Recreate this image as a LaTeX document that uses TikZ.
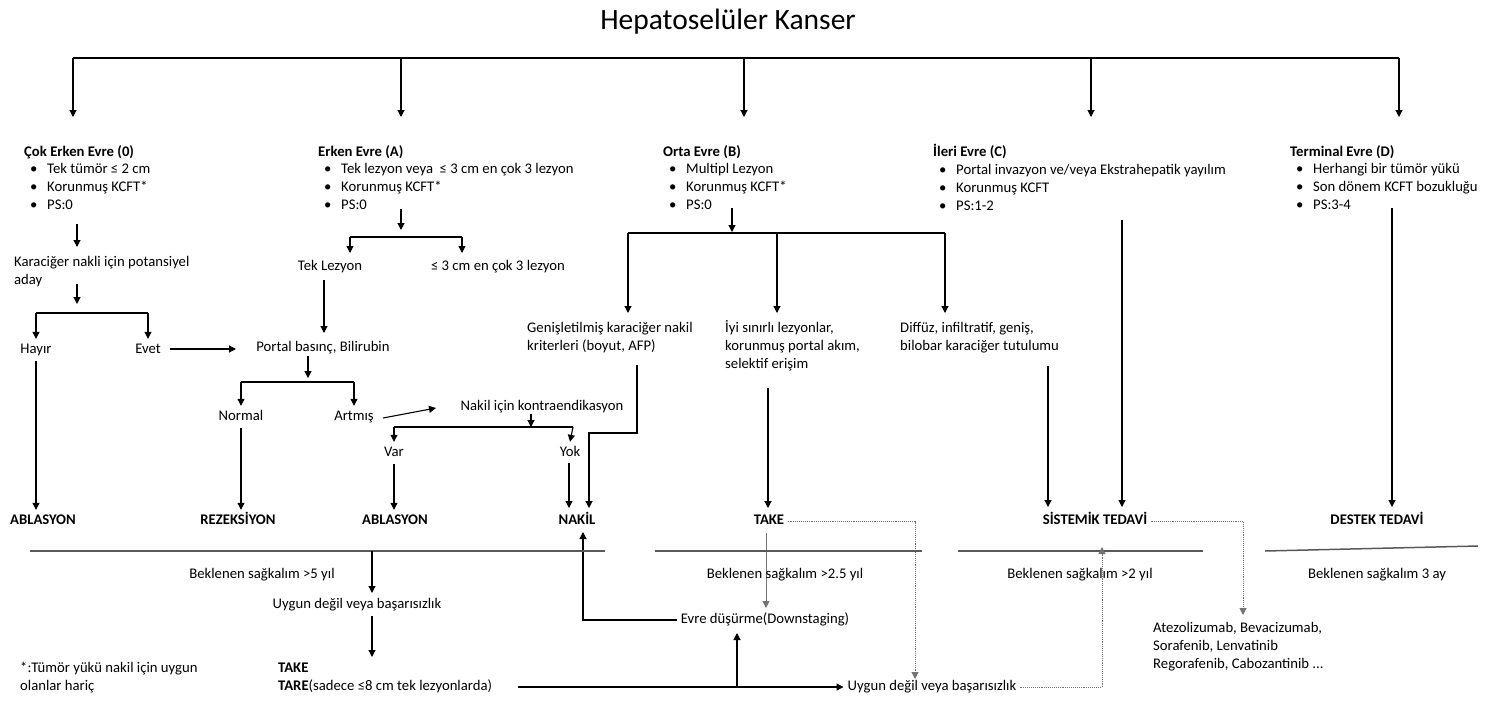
\documentclass[tikz,border=0pt]{standalone}
\usepackage{fontspec}
\setmainfont{Carlito}
\usetikzlibrary{arrows.meta, positioning}

\newcommand{\itm}[1]{\\\hspace*{6pt}\makebox[17pt][l]{\textbullet}#1}

\begin{document}
\begin{tikzpicture}[x=1pt, y=-1pt, font=\fontsize{14.7}{17.8}\selectfont,
  txt/.style={inner sep=4pt, text height=10.5pt, text depth=3.5pt},
  multi/.style={anchor=west, align=left, inner sep=0pt,
    execute at begin node=\strut, execute at end node=\strut},
  res/.style={font=\fontsize{14.7}{17.8}\selectfont\bfseries, inner sep=4pt,
    text height=10.5pt, text depth=3.5pt},
  arr/.style={-{Triangle[width=7pt,length=7pt]}, line width=1.1pt},
  ln/.style={line width=1.1pt},
  sepline/.style={line width=1.5pt, draw=black!65},
  dotline/.style={densely dotted, draw=black!55, line width=1pt},
  greyline/.style={draw=black!55, line width=0.9pt}]
  \useasboundingbox (0,0) rectangle (1499,702);

  % Title and stages
  \node (title) at (728,22) {\fontsize{29.5}{34}\selectfont Hepatoselüler Kanser};
  \draw[ln] (73,58) -- (1399,58);
  \foreach \x in {73,401,744,1091,1399}
    \draw[arr] (\x,58) -- (\x,117);

  \node[multi] (s0) at (24,180) {\textbf{Çok Erken Evre (0)}\itm{Tek tümör ≤ 2 cm}\itm{Korunmuş KCFT*}\itm{PS:0}};
  \node[multi] (sA) at (318,180) {\textbf{Erken Evre (A)}\itm{Tek lezyon veya \ ≤ 3 cm en çok 3 lezyon}\itm{Korunmuş KCFT*}\itm{PS:0}};
  \node[multi] (sB) at (663,180) {\textbf{Orta Evre (B)}\itm{Multipl Lezyon}\itm{Korunmuş KCFT*}\itm{PS:0}};
  \node[multi] (sC) at (933,180) {\textbf{İleri Evre (C)}\itm{Portal invazyon ve/veya Ekstrahepatik yayılım}\itm{Korunmuş KCFT}\itm{PS:1-2}};
  \node[multi] (sD) at (1290,180) {\textbf{Terminal Evre (D)}\itm{Herhangi bir tümör yükü}\itm{Son dönem KCFT bozukluğu}\itm{PS:3-4}};

  % Very early stage
  \node[multi] (kn) at (14,273) {Karaciğer nakli için potansiyel\\aday};
  \node[txt] (hayir) at (36,350) {Hayır};
  \node[txt] (evet) at (148,350) {Evet};
  \node[res] (abl0) at (43,521) {ABLASYON};
  \draw[arr] (77,224) -- (77,247);
  \draw[arr] (77,284) -- (77,304);
  \draw[ln] (36,313) -- (148,313);
  \draw[arr] (36,313) -- (hayir.north);
  \draw[arr] (148,313) -- (evet.north);
  \draw[arr] (hayir.south) -- (hayir.south |- abl0.north);

  % Early stage
  \node[txt] (tek) at (330,267) {Tek Lezyon};
  \node[txt] (uc) at (498,267) {≤ 3 cm en çok 3 lezyon};
  \node[txt] (portal) at (323,348) {Portal basınç, Bilirubin};
  \node[txt] (normal) at (241,417) {Normal};
  \node[txt] (artmis) at (354,417) {Artmış};
  \node[txt] (kontra) at (542,407) {Nakil için kontraendikasyon};
  \node[txt] (var) at (394,453) {Var};
  \node[txt] (yok) at (570,453) {Yok};
  \node[res] (rez) at (238,521) {REZEKSİYON};
  \node[res] (abl1) at (395,521) {ABLASYON};
  \node[res] (nakil) at (577,521) {NAKİL};
  \draw[arr] (401,209) -- (401,230);
  \draw[ln] (350,237) -- (462,237);
  \draw[arr] (350,237) -- (350,253);
  \draw[arr] (462,237) -- (462,253);
  \draw[arr] (324,280) -- (324,333);
  \draw[arr] (170,349) -- (236,349);
  \draw[arr] (308,356) -- (308,378);
  \draw[ln] (241,382) -- (354,382);
  \draw[arr] (241,382) -- (normal.north);
  \draw[arr] (354,382) -- (artmis.north);
  \draw[arr] (normal.south) -- (normal.south |- rez.north);
  \draw[arr] (383,418) -- (436,408);
  \draw[arr] (531,414) -- (531,427);
  \draw[ln] (394,427) -- (573,427);
  \draw[arr] (394,427) -- (var.north);
  \draw[arr] (573,427) -- (yok.north);
  \draw[arr] (var.south) -- (var.south |- abl1.north);
  \draw[arr] (569,463) -- (569,508);

  % Intermediate stage
  \node[multi] (genis) at (527,339) {Genişletilmiş karaciğer nakil\\kriterleri (boyut, AFP)};
  \node[multi] (iyi) at (725,347) {İyi sınırlı lezyonlar,\\korunmuş portal akım,\\selektif erişim};
  \node[multi] (diffuz) at (900,339) {Diffüz, infiltratif, geniş,\\bilobar karaciğer tutulumu};
  \node[res] (take) at (769,521) {TAKE};
  \node[txt] (evre) at (765,620) {Evre düşürme(Downstaging)};
  \draw[arr] (732,208) -- (732,232);
  \draw[ln] (628,233) -- (945,233);
  \foreach \x in {628,777,945}
    \draw[arr] (\x,233) -- (\x,313);
  \draw[arr] (637,365) |- (589,433) -- (589,508);
  \draw[arr] (768,388) -- (768,508);
  \draw[arr, greyline] (766,533) -- (766,608);
  \draw[arr] (evre.west) -| (583,532);
  \draw[arr, dotline] (take.east) -| (915,679);

  % Advanced and terminal stage
  \node[res] (sis) at (1095,521) {SİSTEMİK TEDAVİ};
  \node[res] (destek) at (1377,521) {DESTEK TEDAVİ};
  \node[multi] (ilac) at (1153,648) {Atezolizumab, Bevacizumab,\\Sorafenib, Lenvatinib\\Regorafenib, Cabozantinib ...};
  \draw[arr] (1048,366) -- (1048,507);
  \draw[arr] (1122,220) -- (1122,507);
  \draw[arr] (1392,208) -- (1392,507);
  \draw[arr, dotline] (sis.east) -| (1243,615);

  % Survival
  \draw[sepline] (30,551) -- (605,551);
  \draw[sepline] (655,551) -- (922,551);
  \draw[sepline] (958,551) -- (1203,551);
  \draw[sepline] (1265,551) -- (1478,546);
  \node[txt] (bek1) at (262,575) {Beklenen sağkalım >5 yıl};
  \node[txt] (bek2) at (785,575) {Beklenen sağkalım >2.5 yıl};
  \node[txt] (bek3) at (1080,575) {Beklenen sağkalım >2 yıl};
  \node[txt] (bek4) at (1377,575) {Beklenen sağkalım 3 ay};

  % Second line
  \node[txt] (uyg1) at (357,605) {Uygun değil veya başarısızlık};
  \node[multi] (tare) at (278,679) {\textbf{TAKE}\\\textbf{TARE}(sadece ≤8 cm tek lezyonlarda)};
  \node[multi] (foot) at (20,679) {*:Tümör yükü nakil için uygun\\olanlar hariç};
  \node[txt] (uyg2) at (932,687) {Uygun değil veya başarısızlık};
  \draw[arr] (372,551) -- (372,593);
  \draw[arr] (372,616) -- (372,657);
  \draw[arr] (518,687) -- (uyg2.west);
  \draw[arr] (737,687) -- (737,633);
  \draw[arr, dotline] (uyg2.east) -| (1102,547);
\end{tikzpicture}
\end{document}
